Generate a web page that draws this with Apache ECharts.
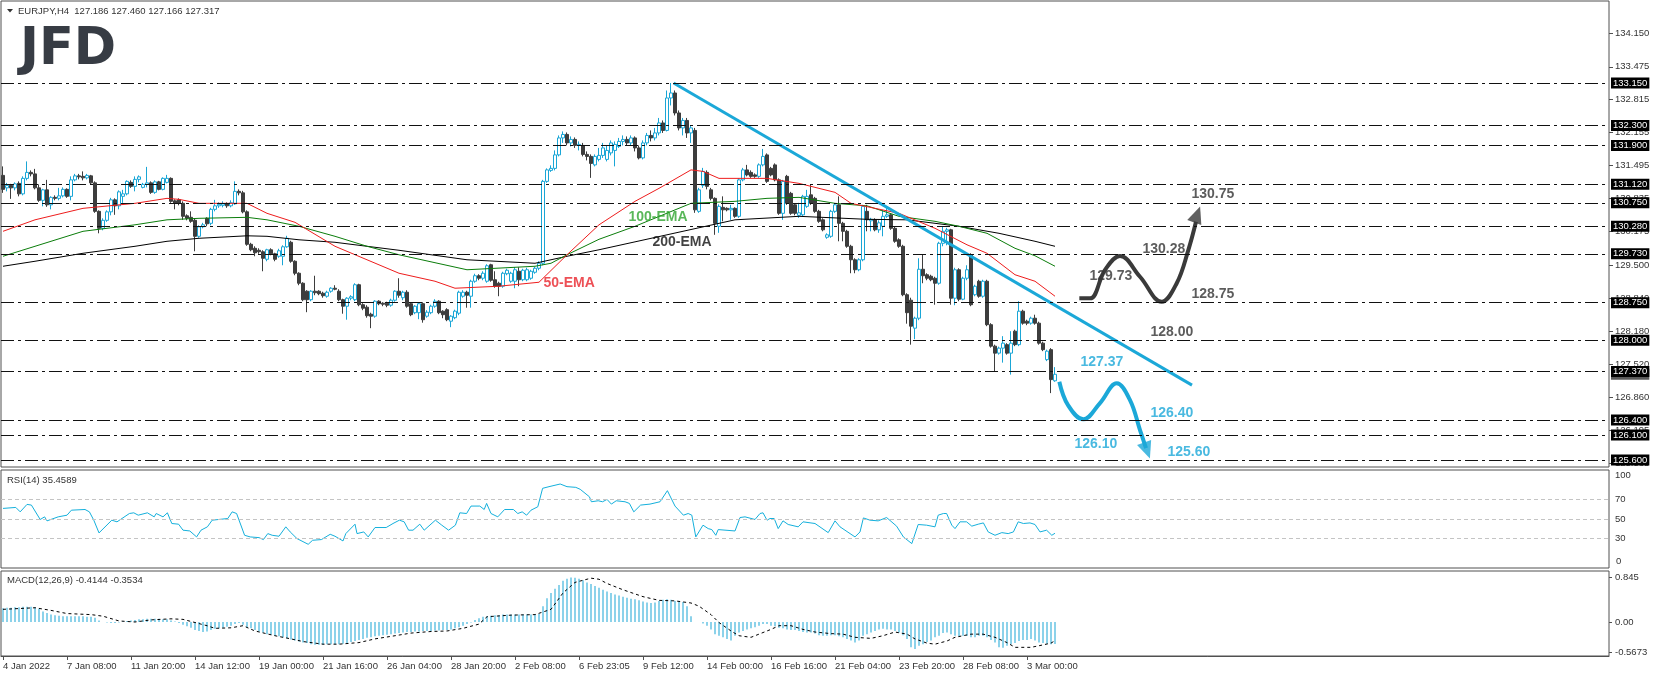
<!DOCTYPE html>
<html><head><meta charset="utf-8">
<script src="https://cdn.jsdelivr.net/npm/echarts@6/dist/echarts.min.js"></script>
<style>html,body{margin:0;padding:0;background:#fff}#c{width:1655px;height:678px}</style>
</head><body><div id="c"></div><script>
// ---------- DATA ----------
const headerText = 'EURJPY,H4  127.186 127.460 127.166 127.317';
const rsiTitle = 'RSI(14) 35.4589';
const macdTitle = 'MACD(12,26,9) -0.4144 -0.3534';
const tickLabels = ['4 Jan 2022','7 Jan 08:00','11 Jan 20:00','14 Jan 12:00','19 Jan 00:00','21 Jan 16:00','26 Jan 04:00','28 Jan 20:00','2 Feb 08:00','6 Feb 23:05','9 Feb 12:00','14 Feb 00:00','16 Feb 16:00','21 Feb 04:00','23 Feb 20:00','28 Feb 08:00','3 Mar 00:00'];
const barsPerTick = 16;
const totalSlots = 402;
// [open, close, low, high]
const candles = [
[131.30,131.02,130.95,131.48],[131.05,131.10,130.98,131.15],[131.10,131.05,130.83,131.13],[131.05,131.13,131.00,131.16],[131.14,130.93,130.88,131.18],
[130.93,131.24,130.90,131.28],[131.24,131.36,131.20,131.58],[131.36,131.33,131.28,131.40],[131.33,131.05,131.02,131.43],[131.05,130.80,130.77,131.12],
[130.80,131.01,130.68,131.03],[131.01,130.71,130.67,131.21],[130.71,130.86,130.62,130.88],[130.86,130.84,130.80,130.90],[130.84,130.89,130.80,131.05],
[130.89,131.02,130.86,131.06],[131.02,130.88,130.85,131.04],[130.88,131.21,130.80,131.28],[131.21,131.29,131.18,131.33],[131.29,131.27,131.22,131.33],
[131.28,131.25,131.20,131.38],[131.25,131.30,131.22,131.33],[131.29,131.15,131.12,131.31],[131.15,130.58,130.55,131.18],[130.58,130.24,130.14,130.60],
[130.24,130.40,130.20,130.44],[130.40,130.57,130.37,130.60],[130.57,130.81,130.50,130.85],[130.81,130.69,130.51,130.84],[130.69,130.97,130.62,131.00],
[130.88,130.93,130.75,131.01],[130.93,131.18,130.90,131.20],[131.16,131.08,131.05,131.20],[131.08,131.22,130.98,131.28],[131.22,131.27,131.16,131.30],
[131.06,131.12,131.04,131.15],[131.12,131.15,131.06,131.47],[131.15,130.96,130.93,131.18],[130.96,131.17,130.93,131.20],[131.17,131.02,131.00,131.19],
[131.02,131.24,131.00,131.26],[131.16,131.24,131.14,131.31],[131.24,130.78,130.75,131.26],[130.79,130.74,130.62,130.82],[130.81,130.74,130.70,130.84],
[130.74,130.48,130.41,130.78],[130.49,130.44,130.40,130.52],[130.46,130.38,130.35,130.58],[130.40,130.08,129.78,130.44],[130.08,130.27,130.05,130.30],
[130.27,130.31,130.24,130.35],[130.44,130.33,130.28,130.46],[130.34,130.62,130.30,130.65],[130.62,130.69,130.58,130.81],[130.69,130.72,130.65,130.76],
[130.70,130.73,130.66,130.78],[130.73,130.69,130.65,130.76],[130.69,130.75,130.66,130.80],[130.73,130.98,130.71,131.18],[130.98,130.95,130.90,131.02],
[130.95,130.57,130.54,130.99],[130.57,129.92,129.89,130.60],[129.92,129.81,129.78,129.95],[129.84,129.75,129.68,129.88],[129.80,129.77,129.73,129.84],
[129.77,129.64,129.38,129.80],[129.62,129.81,129.58,129.83],[129.81,129.73,129.70,129.84],[129.73,129.62,129.58,129.75],[129.68,129.79,129.65,129.83],
[129.68,129.87,129.50,129.90],[129.87,130.04,129.85,130.09],[129.96,129.58,129.55,129.99],[129.58,129.34,129.30,129.60],[129.34,129.14,129.10,129.36],
[129.14,128.81,128.78,129.16],[128.98,128.81,128.56,129.00],[128.81,128.98,128.78,129.00],[128.98,128.95,128.90,129.29],[128.98,128.93,128.90,129.00],
[128.94,128.89,128.85,128.97],[128.88,128.96,128.85,128.99],[128.98,129.04,128.95,129.06],[129.04,129.02,129.00,129.10],[128.98,128.81,128.78,129.02],
[128.81,128.68,128.53,128.83],[128.68,128.84,128.41,128.86],[128.84,128.87,128.80,128.90],[128.81,129.11,128.78,129.14],[129.11,128.71,128.68,129.13],
[128.71,128.64,128.60,128.74],[128.66,128.49,128.45,128.70],[128.52,128.48,128.24,128.55],[128.48,128.78,128.45,128.80],[128.78,128.73,128.70,128.80],
[128.74,128.72,128.68,128.76],[128.74,128.70,128.66,128.77],[128.70,128.80,128.67,128.83],[128.80,128.98,128.77,129.00],[128.98,128.90,128.85,129.24],
[128.85,128.96,128.80,128.99],[128.96,128.68,128.65,129.00],[128.73,128.51,128.48,128.76],[128.55,128.68,128.52,128.70],[128.55,128.73,128.42,128.76],
[128.73,128.41,128.35,128.76],[128.48,128.56,128.45,128.60],[128.55,128.68,128.52,128.71],[128.68,128.78,128.65,128.82],[128.78,128.55,128.52,128.80],
[128.58,128.51,128.44,128.60],[128.61,128.41,128.38,128.64],[128.38,128.48,128.26,128.50],[128.45,128.58,128.42,128.61],[128.54,128.96,128.50,128.99],
[128.88,128.96,128.85,129.00],[128.96,128.90,128.65,128.99],[128.88,129.18,128.65,129.21],[129.18,129.29,129.15,129.33],[129.29,129.24,129.20,129.32],
[129.24,129.34,129.20,129.38],[129.18,129.49,129.15,129.52],[129.51,129.20,129.17,129.53],[129.21,129.08,129.05,129.38],[129.14,129.08,128.88,129.17],
[129.08,129.34,129.05,129.37],[129.33,129.40,129.30,129.43],[129.18,129.34,129.15,129.37],[129.18,129.41,129.04,129.46],[129.38,129.21,129.08,129.46],
[129.21,129.40,129.18,129.43],[129.21,129.41,129.18,129.45],[129.24,129.38,129.21,129.41],[129.36,129.44,129.33,129.47],[129.44,129.54,129.40,129.58],
[129.54,131.18,129.50,131.21],[131.18,131.41,131.15,131.44],[131.40,131.44,131.37,131.50],[131.44,131.71,131.40,131.80],[131.71,132.05,131.68,132.10],
[132.05,132.12,131.95,132.18],[132.12,131.95,131.90,132.16],[131.95,132.02,131.88,132.08],[132.02,131.90,131.85,132.06],[131.90,131.92,131.80,131.98],
[131.90,131.72,131.68,131.95],[131.72,131.68,131.60,131.78],[131.68,131.54,131.25,131.72],[131.51,131.68,131.48,131.72],[131.62,131.70,131.58,131.85],
[131.70,131.85,131.65,131.95],[131.62,131.80,131.58,131.90],[131.75,131.95,131.70,132.00],[131.80,131.92,131.48,131.98],[131.88,131.98,131.85,132.05],
[131.98,132.02,131.90,132.10],[132.02,131.95,131.90,132.08],[131.95,132.05,131.90,132.10],[132.05,131.85,131.78,132.08],[131.85,131.65,131.62,131.90],
[131.65,131.95,131.62,132.00],[131.95,132.10,131.90,132.15],[132.10,132.05,131.98,132.20],[132.05,132.15,132.00,132.25],[132.15,132.35,132.10,132.45],
[132.35,132.20,132.15,132.40],[132.20,132.85,132.18,133.00],[132.85,132.95,132.70,133.15],[132.95,132.55,132.50,133.00],[132.55,132.25,132.20,132.60],
[132.25,132.40,132.10,132.45],[132.40,132.15,132.05,132.45],[132.15,132.25,131.95,132.30],[132.20,130.61,130.55,132.25],[130.58,131.01,130.55,131.05],
[131.10,131.38,131.05,131.45],[131.36,131.08,131.02,131.40],[131.01,130.84,130.80,131.05],[130.84,130.34,130.11,130.86],[130.28,130.68,130.15,130.72],
[130.66,130.61,130.38,130.88],[130.64,130.61,130.58,130.66],[130.61,130.64,130.41,130.71],[130.64,130.48,130.45,130.66],[130.48,131.21,130.45,131.24],
[131.21,131.41,131.18,131.45],[131.41,131.31,131.28,131.51],[131.36,131.28,131.25,131.40],[131.31,131.28,131.25,131.34],[131.28,131.51,131.25,131.54],
[131.51,131.68,131.48,131.83],[131.71,131.18,131.15,131.74],[131.44,131.31,131.28,131.47],[131.51,131.21,131.18,131.54],[131.21,130.54,130.51,131.24],
[130.54,131.18,130.41,131.21],[131.28,130.74,130.71,131.31],[130.94,130.54,130.51,130.97],[130.71,130.54,130.50,130.74],[130.50,130.55,130.45,130.75],
[130.51,130.88,130.48,130.91],[130.68,130.88,130.65,131.01],[130.91,130.74,130.71,131.11],[130.84,130.58,130.55,130.87],[130.58,130.38,130.35,130.61],
[130.41,130.21,130.18,130.44],[130.06,130.11,130.03,130.14],[130.08,130.58,130.05,130.61],[130.58,130.71,130.55,130.74],[130.71,130.34,129.98,130.88],
[130.34,130.18,129.98,130.37],[130.18,129.88,129.85,130.21],[129.88,129.61,129.34,129.91],[129.61,129.41,129.34,129.64],[129.41,129.61,129.38,129.64],
[129.61,130.68,129.58,130.71],[130.58,130.41,130.18,130.71],[130.39,130.42,130.18,130.45],[130.41,130.21,130.18,130.44],[130.21,130.35,130.15,130.40],
[130.28,130.48,130.08,130.61],[130.48,130.51,130.45,130.68],[130.51,130.24,130.21,130.54],[130.24,129.98,129.95,130.27],[130.01,129.88,129.85,130.04],
[129.88,128.91,128.88,129.91],[128.91,128.55,128.33,128.94],[128.80,128.28,127.91,128.85],[128.24,128.44,128.02,128.47],[128.44,129.42,128.40,129.64],
[129.42,129.29,129.14,129.71],[129.31,129.24,129.20,129.34],[129.28,129.21,129.18,129.31],[129.24,129.14,128.71,129.27],[129.14,129.94,129.11,129.97],
[129.94,130.18,129.88,130.28],[130.18,130.21,129.90,130.25],[130.21,128.84,128.71,130.23],[128.84,129.41,128.70,129.45],[129.41,128.82,128.78,129.44],
[128.82,129.24,128.80,129.27],[129.24,129.41,129.20,129.50],[129.71,128.71,128.68,129.74],[128.91,129.08,128.88,129.11],[129.18,128.88,128.85,129.21],
[128.88,129.18,128.85,129.21],[129.18,128.31,128.28,129.21],[128.31,127.88,127.85,128.34],[127.88,127.74,127.38,127.91],[127.74,127.84,127.71,127.87],
[127.84,127.94,127.55,128.08],[127.91,127.74,127.71,127.94],[127.74,127.94,127.31,128.18],[128.18,127.91,127.88,128.21],[127.91,128.58,127.88,128.78],
[128.58,128.34,128.31,128.61],[128.38,128.34,128.30,128.41],[128.34,128.44,128.31,128.47],[128.44,128.34,128.31,128.51],[128.34,127.94,127.91,128.37],
[127.94,127.81,127.78,127.97],[127.61,127.78,127.58,127.81],[127.81,127.21,126.94,127.84],[127.186,127.317,127.166,127.460]
];
// [barIndex, value] samples read along each moving average
const ema50 = [[0,130.18],[8,130.41],[20,130.64],[33,130.74],[41,130.84],[44,130.82],[49,130.74],[61,130.74],[66,130.54],[73,130.36],[83,129.88],[91,129.61],[99,129.34],[108,129.18],[113,129.04],[124,129.08],[134,129.16],[141,129.71],[149,130.31],[158,130.78],[164,131.04],[172,131.41],[175,131.38],[179,131.24],[191,131.24],[199,131.14],[208,130.96],[212,130.74],[218,130.64],[224,130.54],[233,130.24],[241,129.91],[246,129.74],[253,129.31],[258,129.18],[263,128.88]];
const ema100 = [[0,129.68],[8,129.88],[20,130.18],[33,130.31],[41,130.41],[49,130.44],[61,130.46],[66,130.41],[74,130.28],[83,130.08],[91,129.88],[99,129.71],[116,129.41],[133,129.48],[137,129.54],[141,129.71],[149,130.02],[158,130.28],[172,130.74],[183,130.78],[191,130.84],[199,130.86],[208,130.74],[216,130.69],[224,130.48],[233,130.38],[239,130.28],[246,130.14],[253,129.84],[258,129.69],[263,129.48]];
const ema200 = [[0,129.48],[8,129.58],[20,129.74],[33,129.88],[41,129.98],[49,130.04],[61,130.09],[66,130.08],[74,130.01],[83,129.96],[91,129.88],[99,129.80],[116,129.61],[133,129.54],[141,129.68],[149,129.81],[166,130.11],[183,130.41],[199,130.48],[216,130.42],[226,130.41],[239,130.28],[249,130.14],[258,129.98],[263,129.88]];
const levels = [133.15,132.30,131.90,131.12,130.75,130.28,129.73,128.75,128.00,127.37,126.40,126.10,125.60];
const priceTicks = [134.150,133.475,132.815,132.155,131.495,130.835,130.175,129.500,128.840,128.180,127.520,126.860,126.195,125.535];
const lastPrice = 127.317;
const trendLine = [[167.65,133.15],[297.25,127.10]];
const bullPath = [[269.08,128.838],[271.75,128.838],[275.5,129.405],[279.25,129.685],[284.25,129.27],[289.68,128.77],[293.43,129.14],[296.33,129.805],[298.25,130.37]];
const bullArrow = [298.55,130.517];
const bearPath = [[264.08,127.168],[266.25,126.70],[270.08,126.415],[274.25,126.74],[278.43,127.136],[281.75,126.80],[284.25,126.20],[285.75,125.84]];
const bearArrow = [286.0,125.79];
const bullTexts = [['130.75',297,130.927],['130.28',284.75,129.825],['129.73',271.5,129.275],['128.75',297,128.924],['128.00',286.75,128.169]];
const bearTexts = [['127.37',269.25,127.562],['126.40',286.75,126.541],['126.10',267.75,125.92],['125.60',291,125.766]];
const emaTexts = [['50-EMA',135,129.144],['100-EMA',156.25,130.472],['200-EMA',162.25,129.972]];
const rsi = [[0,60.8],[3.2,61.8],[4.3,57.3],[6,64.9],[7.1,64.2],[9.3,49.5],[10.4,52.2],[11,48.1],[13.8,52.2],[16,53.9],[17.1,59],[20.5,59.7],[21.6,57.3],[22.7,48.8],[24,35.8],[27.2,48.8],[28.5,47.1],[31.6,55.6],[32.7,56.3],[33.8,53.9],[36.1,56.3],[37.8,52.2],[38.3,55.6],[40,52.2],[41.1,56.3],[42.2,45.4],[43.9,44.7],[45,38.6],[46.7,37.8],[48.4,31.7],[49.5,38.6],[51.1,42],[52.3,48.8],[53.9,49.5],[56.2,50.5],[57.3,57.3],[58.4,55.6],[60.4,33.4],[61.8,31.7],[64,31],[65.1,29],[66.2,35.1],[67.3,33.4],[69,32.4],[70.7,42],[71.8,36.8],[73.5,30],[76.3,24.2],[77.4,28.3],[79.6,29],[81.8,34.4],[83,32.4],[85,27.6],[85.7,35.1],[88,44.7],[88.5,35.1],[90.2,36.8],[91.3,31.7],[93,41.3],[95.8,41.3],[97.5,45.4],[99.1,48.8],[100.3,47.1],[101.4,38.6],[102.5,38.6],[104.2,44.7],[105.3,38.6],[108.1,48.8],[109.7,43.7],[111.4,38.6],[113.1,43.7],[114.2,56.3],[115.9,55.6],[117,63.2],[119.2,63.2],[120.3,59.7],[120.9,65.9],[122,55.6],[123.7,52.2],[125.4,59.7],[127.6,59.7],[128.7,55.6],[129.8,57.3],[130.9,53.9],[132,59],[133.7,62.5],[134.9,81.3],[136.5,83],[139.3,85.7],[141,83],[143.2,82.3],[144.3,80.3],[146.6,72.7],[147.1,67.6],[148.8,68.6],[149.9,67.6],[151,70],[152.1,65.2],[153.3,68.6],[155.5,67.6],[156.6,65.9],[157.7,57.3],[159.4,64.2],[161.75,65.2],[164.25,67.6],[166.1,78.9],[168,63.2],[170.1,53.9],[171.3,55.6],[172.2,53.9],[173.2,31.7],[175,43.7],[176.3,40.2],[177.2,39.2],[178.2,33.4],[178.8,39.2],[183,37.8],[184.25,51.5],[185.5,52.2],[188,49.5],[189.25,55.6],[190,56.3],[191,48.8],[191.75,50.5],[192.8,50.5],[193.8,40.2],[195,48.1],[196.3,44.4],[198.8,42],[200,47.1],[203,45.4],[206.3,36.1],[208,48.1],[209.25,42],[213,31.7],[214.25,36.8],[215.1,51.1],[216.75,48.8],[218.8,48.1],[220.9,51.5],[223.4,42.7],[225.1,31.7],[227.2,24.9],[228.8,44.4],[230.9,43.7],[233,42],[233.8,53.9],[235.1,55.6],[235.9,55.6],[237.2,43.7],[238,40.2],[239.25,47.1],[240.9,47.1],[242.2,42.7],[243.8,44.7],[245.1,46],[246.3,36.8],[248,33.4],[249.7,36.1],[251.3,35.1],[252.6,36.8],[253.8,47.1],[255.1,45.4],[256.75,46],[258,44.4],[259.25,36.8],[260.9,38.6],[262.2,33.4],[263,35.46]];
const rsiLevels = [70,50,30];
const rsiTicks = [70,50,30];
const rsiEdgeTicks = [100,0];
const macdHist = [
0.26,0.27,0.27,0.28,0.28,0.29,0.29,0.29,0.28,0.25,
0.20,0.17,0.14,0.13,0.12,0.11,0.11,0.11,0.11,0.11,
0.11,0.10,0.10,0.08,0.03,0.00,-0.01,-0.02,-0.02,-0.01,
0.01,0.02,0.03,0.04,0.05,0.05,0.06,0.06,0.06,0.06,
0.05,0.05,0.03,0.01,-0.02,-0.05,-0.08,-0.11,-0.15,-0.17,
-0.19,-0.18,-0.15,-0.13,-0.12,-0.11,-0.09,-0.07,-0.04,-0.02,
-0.05,-0.10,-0.12,-0.15,-0.18,-0.20,-0.23,-0.24,-0.26,-0.27,
-0.29,-0.31,-0.33,-0.35,-0.37,-0.39,-0.40,-0.42,-0.43,-0.43,
-0.43,-0.42,-0.42,-0.42,-0.42,-0.41,-0.40,-0.38,-0.36,-0.34,
-0.32,-0.30,-0.29,-0.27,-0.26,-0.25,-0.24,-0.23,-0.22,-0.21,
-0.20,-0.19,-0.19,-0.18,-0.18,-0.17,-0.17,-0.17,-0.16,-0.16,
-0.15,-0.15,-0.14,-0.12,-0.10,-0.07,-0.04,-0.01,0.04,0.07,
0.10,0.11,0.12,0.13,0.13,0.14,0.14,0.14,0.14,0.14,
0.14,0.14,0.14,0.14,0.15,0.30,0.45,0.55,0.63,0.70,
0.78,0.82,0.845,0.84,0.82,0.79,0.75,0.72,0.68,0.65,
0.61,0.58,0.55,0.52,0.50,0.48,0.46,0.44,0.43,0.41,
0.39,0.37,0.36,0.37,0.40,0.42,0.43,0.42,0.40,0.39,
0.38,0.30,0.11,0.00,0.00,-0.03,-0.07,-0.14,-0.23,-0.26,
-0.29,-0.32,-0.35,-0.26,-0.20,-0.17,-0.14,-0.12,-0.10,-0.07,
-0.04,-0.04,-0.07,-0.08,-0.11,-0.12,-0.14,-0.15,-0.15,-0.17,
-0.19,-0.20,-0.20,-0.22,-0.25,-0.26,-0.26,-0.25,-0.25,-0.27,
-0.29,-0.32,-0.35,-0.39,-0.35,-0.26,-0.23,-0.20,-0.17,-0.14,
-0.13,-0.14,-0.14,-0.17,-0.20,-0.25,-0.32,-0.48,-0.51,-0.45,
-0.42,-0.38,-0.35,-0.29,-0.26,-0.21,-0.20,-0.23,-0.26,-0.27,
-0.26,-0.26,-0.29,-0.29,-0.26,-0.26,-0.29,-0.34,-0.39,-0.48,
-0.49,-0.45,-0.42,-0.40,-0.36,-0.34,-0.34,-0.32,-0.35,-0.39,
-0.40,-0.41,-0.42,-0.4144];
const macdSignal = [[0,0.24],[8,0.27],[12,0.22],[16,0.16],[22,0.14],[25,0.11],[29,0.02],[33,0.0],[37,0.04],[42,0.06],[45,0.05],[51,-0.07],[53,-0.12],[57,-0.11],[60,-0.07],[63,-0.17],[68,-0.26],[72,-0.32],[75,-0.37],[80,-0.42],[84,-0.42],[89,-0.39],[93,-0.32],[98,-0.26],[102,-0.21],[107,-0.18],[111,-0.17],[115,-0.12],[119,-0.04],[121,0.10],[127,0.13],[133,0.14],[137,0.24],[140,0.55],[143,0.75],[147,0.83],[149,0.81],[151,0.73],[155,0.61],[160,0.48],[164,0.41],[168,0.40],[172,0.36],[174,0.30],[177,0.14],[179,-0.01],[182,-0.17],[184,-0.26],[187,-0.29],[189,-0.23],[192,-0.14],[194,-0.07],[197,-0.07],[200,-0.14],[203,-0.19],[207,-0.22],[210,-0.23],[213,-0.29],[217,-0.31],[220,-0.26],[223,-0.19],[226,-0.23],[228,-0.32],[231,-0.40],[233,-0.42],[236,-0.36],[238,-0.29],[242,-0.23],[245,-0.23],[248,-0.29],[251,-0.39],[253,-0.48],[257,-0.48],[259,-0.45],[262,-0.40],[263,-0.3534]];
const macdTicks = [0.845,0,-0.5673];

// ---------- CHART ----------
const FONT = '"Liberation Sans", Arial, sans-serif';
const BLUE = '#1aa6d6';
const DARK = '#3d3d3d';
const NONE = 'rgba(0,0,0,0)';
const cats = Array.from({length: totalSlots}, (_, i) => String(i));
const showTick = (idx) => idx % barsPerTick === 0 && idx / barsPerTick < tickLabels.length;
const gridBase = {left: 1, width: 1608, show: true, borderColor: '#505050', borderWidth: 1, containLabel: false};
const axisTxt = {fontSize: 9.5, color: '#333', fontFamily: FONT};

function textSeries(items, color) {
  return {
    type: 'scatter', xAxisIndex: 1, yAxisIndex: 0, silent: true, symbolSize: 1,
    itemStyle: {color: NONE}, z: 10,
    data: items.map(t => ({value: [t[1], t[2]], name: t[0]})),
    label: {show: true, position: 'right', distance: 0, formatter: p => p.name,
      color: color, fontSize: 14, fontWeight: 'bold', fontFamily: FONT}
  };
}

const levelMarks = [{yAxis: lastPrice, lineStyle: {color: NONE, width: 0},
  label: {backgroundColor: '#5a5a5a', formatter: lastPrice.toFixed(3)}}]
  .concat(levels.map(v => ({yAxis: v, label: {formatter: v.toFixed(3)}})));

const rsiMarks = rsiLevels.map(v => ({yAxis: v, label: {show: false}}))
  .concat([{yAxis: rsiEdgeTicks[0], lineStyle: {color: NONE, width: 0},
    label: {show: true, position: 'end', distance: 6, formatter: () => String(rsiEdgeTicks[0]), color: '#333',
      fontSize: 9.5, fontFamily: FONT, offset: [0, 5]}}]);

const hiddenVal = (g) => ({type: 'value', gridIndex: g, min: -0.5, max: totalSlots - 0.5, show: false,
  axisLine: {onZero: false}});

const option = {
  animation: false,
  backgroundColor: '#ffffff',
  grid: [
    Object.assign({top: 1, height: 466}, gridBase),
    Object.assign({top: 470, height: 98}, gridBase),
    Object.assign({top: 571, height: 85}, gridBase)
  ],
  xAxis: [
    {type: 'category', gridIndex: 0, data: cats, show: false, axisLine: {onZero: false}},
    hiddenVal(0),
    hiddenVal(1),
    {type: 'category', gridIndex: 2, data: cats,
      axisLine: {show: true, onZero: false, lineStyle: {color: '#505050'}},
      axisTick: {show: true, alignWithLabel: true, length: 4, interval: showTick, lineStyle: {color: '#505050'}},
      axisLabel: Object.assign({show: true, interval: showTick, align: 'left', margin: 5,
        formatter: (v) => tickLabels[Math.round(Number(v) / barsPerTick)] || ''}, axisTxt)},
    hiddenVal(2)
  ],
  yAxis: [
    {type: 'value', gridIndex: 0, position: 'right', min: 125.46, max: 134.792,
      splitLine: {show: false}, axisLine: {show: false, onZero: false},
      axisTick: {show: true, length: 4, customValues: priceTicks, lineStyle: {color: '#505050'}},
      axisLabel: Object.assign({customValues: priceTicks, margin: 6, formatter: v => Number(v).toFixed(3)}, axisTxt)},
    {type: 'value', gridIndex: 1, position: 'right', min: 0, max: 100,
      splitLine: {show: false}, axisLine: {show: false, onZero: false},
      axisTick: {show: false},
      axisLabel: Object.assign({customValues: rsiTicks, margin: 6}, axisTxt)},
    {type: 'value', gridIndex: 2, position: 'right', min: -0.644, max: 0.966,
      splitLine: {show: false}, axisLine: {show: false, onZero: false},
      axisTick: {show: true, length: 3, customValues: macdTicks, lineStyle: {color: '#505050'}},
      axisLabel: Object.assign({customValues: macdTicks, margin: 6, showMinLabel: true, showMaxLabel: true,
        formatter: v => Number(v) === 0 ? '0.00' : String(v)}, axisTxt)}
  ],
  series: [
    {type: 'candlestick', xAxisIndex: 0, yAxisIndex: 0, data: candles, barWidth: 3,
      itemStyle: {color: '#ffffff', color0: DARK, borderColor: BLUE, borderColor0: DARK, borderWidth: 1},
      markLine: {silent: true, symbol: ['none', 'none'], animation: false, precision: 3,
        lineStyle: {color: '#111', width: 1, type: [13, 4, 3, 4]},
        label: {show: true, position: 'end', distance: 2, color: '#fff', backgroundColor: '#000',
          fontSize: 9.5, fontFamily: FONT, padding: [1, 2, 0, 2]},
        data: levelMarks}},
    {type: 'line', xAxisIndex: 1, yAxisIndex: 0, data: ema200, showSymbol: false, silent: true,
      lineStyle: {color: '#000', width: 1}},
    {type: 'line', xAxisIndex: 1, yAxisIndex: 0, data: ema100, showSymbol: false, silent: true,
      lineStyle: {color: '#0b7d0b', width: 1}},
    {type: 'line', xAxisIndex: 1, yAxisIndex: 0, data: ema50, showSymbol: false, silent: true,
      lineStyle: {color: '#ee1c1c', width: 1}},
    {type: 'line', xAxisIndex: 1, yAxisIndex: 0, data: trendLine, showSymbol: false, silent: true,
      lineStyle: {color: '#1ba8d8', width: 3}},
    {type: 'line', xAxisIndex: 1, yAxisIndex: 0, data: bullPath, showSymbol: false, silent: true, smooth: 0.4,
      lineStyle: {color: '#3a3a3a', width: 4}},
    {type: 'line', xAxisIndex: 1, yAxisIndex: 0, data: bearPath, showSymbol: false, silent: true, smooth: 0.4,
      lineStyle: {color: '#1ba8d8', width: 4}},
    {type: 'scatter', xAxisIndex: 1, yAxisIndex: 0, data: [bullArrow], symbol: 'triangle', symbolSize: [15, 17],
      symbolRotate: -20, itemStyle: {color: '#3a3a3a'}, silent: true},
    {type: 'scatter', xAxisIndex: 1, yAxisIndex: 0, data: [bearArrow], symbol: 'triangle', symbolSize: [15, 17],
      symbolRotate: 200, itemStyle: {color: '#1ba8d8'}, silent: true},
    textSeries(bullTexts, '#333333'),
    textSeries(bearTexts, '#1ba8d8'),
    textSeries([emaTexts[0]], '#e8242c'),
    textSeries([emaTexts[1]], '#2fa52f'),
    textSeries([emaTexts[2]], '#111111'),
    {type: 'line', xAxisIndex: 2, yAxisIndex: 1, data: rsi, showSymbol: false, silent: true,
      lineStyle: {color: '#14b0dc', width: 1},
      markLine: {silent: true, symbol: ['none', 'none'],
        lineStyle: {color: '#c4c4c4', type: [4, 3], width: 1},
        data: rsiMarks}},
    {type: 'bar', xAxisIndex: 3, yAxisIndex: 2, data: macdHist, barWidth: 1, silent: true,
      itemStyle: {color: '#1aa6d6'}},
    {type: 'line', xAxisIndex: 4, yAxisIndex: 2, data: macdSignal, showSymbol: false, silent: true,
      lineStyle: {color: '#000', width: 1, type: [3, 3]}}
  ],
  graphic: [
    {type: 'polygon', shape: {points: [[7, 9], [13, 9], [10, 12.5]]}, style: {fill: '#333'}},
    {type: 'text', x: 18, y: 11, style: {text: headerText, fontSize: 9.5, fontFamily: FONT, fill: '#333', verticalAlign: 'middle'}},
    {type: 'text', x: 20, y: 51, style: {text: 'JFD', fontSize: 51, fontWeight: 'bold', fontFamily: '"DejaVu Sans", sans-serif', fill: '#373c44', verticalAlign: 'middle'}},
    {type: 'text', x: 7, y: 480, style: {text: rsiTitle, fontSize: 9.5, fontFamily: FONT, fill: '#333', verticalAlign: 'middle'}},
    {type: 'text', x: 7, y: 580, style: {text: macdTitle, fontSize: 9.5, fontFamily: FONT, fill: '#333', verticalAlign: 'middle'}},
    {type: 'text', z: 100, x: 1616, y: 561, style: {text: String(rsiEdgeTicks[1]), fontSize: 9.5, fontFamily: FONT, fill: '#333', verticalAlign: 'middle'}}
  ]
};
const chart = echarts.init(document.getElementById('c'));
chart.setOption(option);
</script></body></html>
